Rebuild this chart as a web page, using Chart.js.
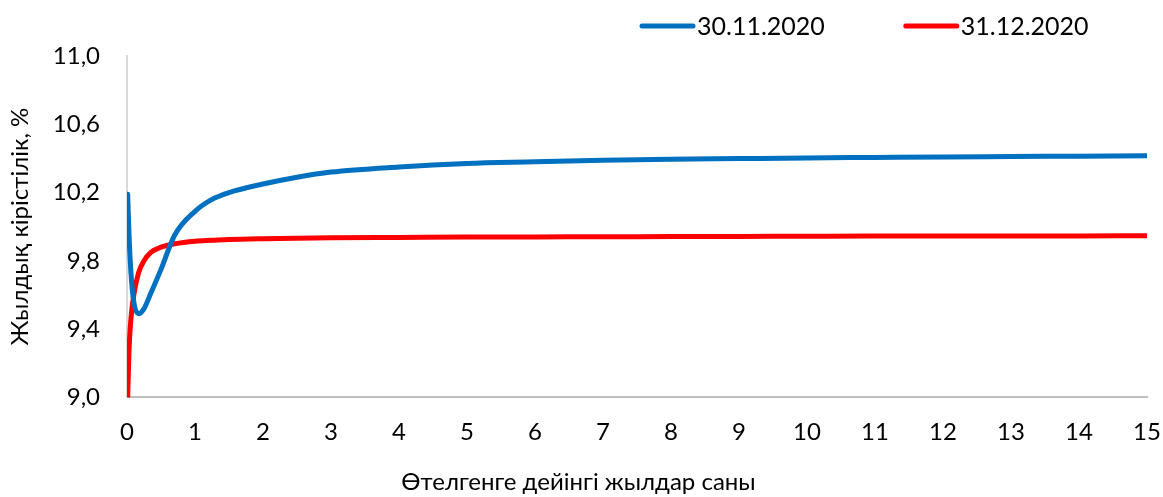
<!DOCTYPE html>
<html>
<head>
<meta charset="utf-8">
<script src="https://cdn.jsdelivr.net/npm/chart.js@4"></script>
<style>
  html, body { margin: 0; padding: 0; background: #fff; }
  #wrap { width: 1163px; height: 497px; }
</style>
</head>
<body>
<div id="wrap"><canvas id="yieldChart"></canvas></div>
<script>
// maturity, years
const maturities = [0.01, 0.03, 0.06, 0.1, 0.17, 0.25, 0.35, 0.5, 0.7, 1, 1.25, 1.5, 2, 2.5, 3, 4, 5, 6, 7, 8, 9, 10, 11, 12, 13, 14, 15];
const curveNov = [10.19, 9.95, 9.72, 9.56, 9.49, 9.52, 9.61, 9.75, 9.95, 10.09, 10.16, 10.20, 10.25, 10.29, 10.32, 10.35, 10.37, 10.38, 10.39, 10.395, 10.399, 10.403, 10.406, 10.409, 10.411, 10.413, 10.415];
const curveDec = [9.0, 9.28, 9.47, 9.6, 9.73, 9.8, 9.85, 9.88, 9.9, 9.915, 9.92, 9.925, 9.93, 9.933, 9.935, 9.937, 9.939, 9.94, 9.941, 9.942, 9.943, 9.944, 9.945, 9.945, 9.946, 9.946, 9.947];
const seriesLabels = ['30.11.2020', '31.12.2020'];
const yTicks = [9.0, 9.4, 9.8, 10.2, 10.6, 11.0];

const FONT = 'Lato, "Noto Sans", sans-serif';
const toPoints = vals => maturities.map((m, i) => ({ x: m, y: vals[i] }));

// line-style legend drawn above the plot, right side
const lineLegend = {
  id: 'lineLegend',
  afterDraw(chart) {
    const c = chart.ctx;
    const area = chart.chartArea;
    let x = area.right - 505;
    const y = 26;
    c.save();
    c.font = '25px ' + FONT;
    c.textBaseline = 'middle';
    chart.data.datasets.forEach(ds => {
      c.strokeStyle = ds.borderColor;
      c.lineWidth = 5;
      c.lineCap = 'round';
      c.beginPath();
      c.moveTo(x, y);
      c.lineTo(x + 51, y);
      c.stroke();
      c.fillStyle = '#000';
      c.fillText(ds.label, x + 55, y + 1);
      x += 55 + c.measureText(ds.label).width + 81;
    });
    c.restore();
  }
};

document.addEventListener('DOMContentLoaded', function() {
  Chart.defaults.font.family = FONT;
  Chart.defaults.color = '#000';

  const ctx = document.getElementById('yieldChart').getContext('2d');
  new Chart(ctx, {
    type: 'line',
    data: {
      datasets: [
        {
          label: seriesLabels[0],
          data: toPoints(curveNov),
          borderColor: '#0070C0',
          borderWidth: 5,
          borderCapStyle: 'round',
          pointRadius: 0,
          cubicInterpolationMode: 'monotone'
        },
        {
          label: seriesLabels[1],
          data: toPoints(curveDec),
          borderColor: '#FF0000',
          borderWidth: 5,
          borderCapStyle: 'round',
          pointRadius: 0,
          cubicInterpolationMode: 'monotone'
        }
      ]
    },
    plugins: [lineLegend],
    options: {
      responsive: true,
      maintainAspectRatio: false,
      animation: false,
      layout: { padding: { left: 0, right: 6, top: 56, bottom: 0 } },
      plugins: {
        legend: { display: false },
        title: {
          display: true,
          position: 'bottom',
          text: 'Өтелгенге дейінгі жылдар саны',
          font: { size: 24, weight: 'normal' },
          padding: { top: 10, bottom: 0 }
        },
        tooltip: { enabled: false }
      },
      scales: {
        x: {
          type: 'linear',
          min: 0,
          max: 15,
          afterFit: axis => { axis.paddingRight = 16; },
          ticks: { stepSize: 1, font: { size: 24 }, padding: 12 },
          grid: { display: false, drawOnChartArea: false, drawTicks: true, tickLength: 8, color: '#BFBFBF' },
          border: { color: '#BFBFBF', width: 2 }
        },
        y: {
          type: 'linear',
          min: 9,
          max: 11,
          afterBuildTicks: axis => { axis.ticks = yTicks.map(v => ({ value: v })); },
          afterFit: axis => { axis.width = 127; },
          ticks: {
            font: { size: 24 },
            padding: 27,
            callback: v => v.toFixed(1).replace('.', ',')
          },
          grid: { display: false, drawTicks: false },
          border: { color: '#D9D9D9', width: 2 },
          title: {
            display: true,
            text: 'Жылдық кірістілік, %',
            font: { size: 24 },
            padding: { top: 6, bottom: 0 }
          }
        }
      }
    }
  });
});
</script>
</body>
</html>
